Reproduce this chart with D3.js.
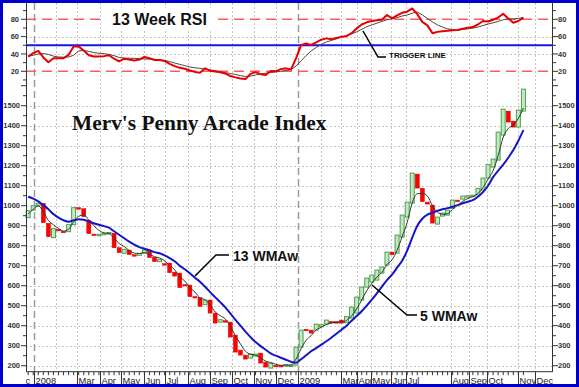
<!DOCTYPE html>
<html><head><meta charset="utf-8">
<script src="https://cdn.jsdelivr.net/npm/d3@7"></script>
<style>body{margin:0;background:#fff;} svg{display:block;}</style>
</head><body>
<svg id="c" width="579" height="387"></svg>
<script>
// ---------- DATA ----------
const firstWeek = "2007-12-24";
const opens = [940,978,1000,1012,912,840,882,872,870,905,
  990,985,925,858,854,857,860,862,790,762,
  778,755,752,762,778,742,720,710,713,668,
  663,606,603,546,540,505,528,463,418,425,
  418,353,278,253,238,248,263,218,188,202,
  201,200,196,203,293,382,378,378,395,408,
  421,420,428,415,438,463,528,593,618,628,
  663,703,768,763,843,943,1013,1158,1087,1018,
  1003,908,948,953,988,1028,1033,1045,1050,1053,
  1078,1138,1193,1228,1353,1473,1423,1393,1473];
const closes = [975,1000,1012,915,845,885,874,868,905,990,
  985,945,860,854,857,862,866,790,765,782,
  755,752,762,778,740,720,732,703,665,648,
  590,602,545,542,497,528,463,413,430,420,
  343,268,253,233,258,258,213,193,212,200,
  199,205,203,293,378,380,363,408,405,428,
  418,418,413,445,493,543,593,638,653,678,
  693,768,755,853,953,1018,1163,1088,1020,1008,
  913,943,963,978,1028,1022,1048,1050,1053,1087,
  1138,1205,1233,1368,1483,1418,1393,1478,1583];
const wma5 = [958,982,999,970,926,905,886,873,882,920,
  947,954,928,900,877,864,861,838,811,796,
  776,763,761,766,757,745,739,724,701,680,
  645,623,591,568,539,530,503,469,450,434,
  398,350,309,272,257,253,239,223,216,207,
  202,203,203,233,285,327,351,379,392,406,
  413,418,417,426,449,484,528,575,612,643,
  667,706,729,777,845,916,1014,1060,1062,1049,
  1000,968,957,960,983,1002,1022,1036,1045,1061,
  1090,1133,1175,1250,1342,1386,1404,1437,1488];
const wma13 = [1045,1035,1022,1003,982,958,940,927,920,927,
  932,930,922,912,905,898,890,872,855,837,
  820,805,793,785,777,768,762,752,738,722,
  700,682,662,640,620,595,568,543,518,492,
  462,430,400,370,343,318,298,280,262,250,
  240,230,220,215,232,252,272,288,305,322,
  340,360,380,400,425,448,472,500,530,562,
  595,628,655,690,725,775,840,900,935,955,
  965,975,982,988,995,1003,1012,1020,1028,1045,
  1068,1100,1143,1175,1205,1240,1278,1325,1378];
const rsi = [37,41,43.5,36,30.5,35,35,35,39,48.5,
  48.5,44,38.5,37,37,37.5,38.5,34.5,31.5,34.5,
  33.5,32.5,33.5,36.5,35,33,33,32,28.5,26,
  24,23,21,19.3,18.4,23.4,20.7,19.8,19,17.5,
  14.6,13,11.8,11,17,19,16.7,15.7,20.3,20,
  22.5,23.4,22,35,50,52,50.5,53.5,56.5,58,
  57,58.5,60,60.5,64,69.5,74,76.5,78,79,
  79.5,85,81,84.5,87.5,88.8,92.5,86,77,73,
  64,65.5,66.3,66.8,67.3,67.6,69,70.3,71,74,
  78,77.4,79.5,82,86.5,81,76,78,82];
const trigger = [37.5,38.5,40,40.5,39.5,37.5,36.5,36.3,36.5,38.5,
  43.5,44,43,41.5,40.8,40.3,39.5,38,36,35.3,
  35,35,34.6,34.3,34,33.8,33.2,32.5,31.3,29.5,
  28,26.5,25,24,23.5,22.5,21.6,20.8,19.7,18.5,
  17.5,16.3,15,14,14.5,15.8,17,17.8,18.6,19.3,
  20,21,22,26,32,38,43.5,47.5,51,53.8,
  55.6,57.5,59.5,61.3,63.3,65.5,68.5,71.5,73.5,75.5,
  77.5,79.5,80.5,82,83.8,85,87,88.5,85,81,
  77,73.5,71,69,68,67.6,68.3,69,69.8,71,
  72.8,74.5,76,77.5,79.5,80.5,80.5,81,82];
const priceTicks = [200,300,400,500,600,700,800,900,1000,1100,1200,1300,1400,1500];
const rsiTicks = [20,40,60,80];
const rsiBands = [20,80];
const rsiTriggerLevel = 50;
const monthLabels = ["Dec","2008","Mar","Apr","May","Jun","Jul","Aug","Sep","Oct","Nov","Dec",
  "2009","Mar","Apr","May","Jun","Jul","Aug","Sep","Oct","Nov","Dec"];
const monthLabelDates = ["2007-12-01","2008-01-01","2008-03-01","2008-04-01","2008-05-01","2008-06-01",
  "2008-07-01","2008-08-01","2008-09-01","2008-10-01","2008-11-01","2008-12-01",
  "2009-01-01","2009-03-01","2009-03-23","2009-04-12","2009-05-10","2009-05-30",
  "2009-08-01","2009-08-26","2009-09-20","2009-11-02","2009-11-25"];
const extraGridDates = ["2008-02-01","2009-02-01"];
const yearLineDates = ["2008-01-01","2009-01-01"];

// ---------- LAYOUT ----------
const parse = d3.timeParse("%Y-%m-%d");
const svg = d3.select("#c");
const L = 26, R = 553, T = 3, B = 371.7, mainTop = 87.7;
const x = d3.scaleTime().domain([parse("2007-12-21"), parse("2009-12-20")]).range([L, R]);
const yP = d3.scaleLinear().domain([170, 1590]).range([B, mainTop]);
const yR = d3.scaleLinear().domain([20, 80]).range([71.3, 19.3]);
const start = parse(firstWeek);
const weeks = closes.map((_, i) => d3.timeDay.offset(start, 7 * i));
const font = "'Liberation Sans', Arial, Helvetica, sans-serif";

svg.append("rect").attr("width", 579).attr("height", 387).attr("fill", "#fff");

const defs = svg.append("defs");
defs.append("clipPath").attr("id", "plotclip").append("rect")
  .attr("x", L).attr("y", 0).attr("width", R - L).attr("height", 387);

// grid
const grid = svg.append("g").attr("stroke", "#c4c4c4").attr("stroke-width", 1)
  .attr("stroke-dasharray", "2,2").attr("fill", "none");
priceTicks.forEach(v => grid.append("line").attr("x1", L).attr("x2", R)
  .attr("y1", Math.round(yP(v)) + 0.5).attr("y2", Math.round(yP(v)) + 0.5));
[40, 60].forEach(v => grid.append("line").attr("x1", L).attr("x2", R)
  .attr("y1", Math.round(yR(v)) + 0.5).attr("y2", Math.round(yR(v)) + 0.5));
const fmt = d3.timeFormat("%Y-%m-%d");
const gridDates = monthLabelDates.concat(extraGridDates).map(parse)
  .filter(d => x(d) > L + 2 && x(d) < R - 2 && yearLineDates.indexOf(fmt(d)) < 0);
gridDates.forEach(d => grid.append("line").attr("x1", Math.round(x(d)) + 0.5).attr("x2", Math.round(x(d)) + 0.5)
  .attr("y1", T).attr("y2", B));

// year lines
yearLineDates.map(parse).forEach(d => svg.append("line")
  .attr("x1", Math.round(x(d)) + 0.5).attr("x2", Math.round(x(d)) + 0.5)
  .attr("y1", T).attr("y2", B).attr("stroke", "#9a9a9a").attr("stroke-width", 1.5)
  .attr("stroke-dasharray", "7,4"));

// RSI bands
rsiBands.forEach(v => svg.append("line").attr("x1", L).attr("x2", R)
  .attr("y1", yR(v)).attr("y2", yR(v)).attr("stroke", "#ff5a5a").attr("stroke-width", 1.5)
  .attr("stroke-dasharray", "10,6"));
svg.append("line").attr("x1", L).attr("x2", R)
  .attr("y1", yR(rsiTriggerLevel)).attr("y2", yR(rsiTriggerLevel))
  .attr("stroke", "#1414f0").attr("stroke-width", 2);

// RSI title
svg.append("rect").attr("x", 104).attr("y", 8).attr("width", 110).attr("height", 22).attr("fill", "#fff");
svg.append("text").attr("x", 112).attr("y", 25).attr("font-family", font).attr("font-weight", "bold")
  .attr("font-size", 16).attr("fill", "#111").text("13 Week RSI");

// RSI lines
const lineR = arr => d3.line().x((d, i) => x(weeks[i])).y(d => yR(d))(arr);
svg.append("path").attr("d", lineR(trigger)).attr("fill", "none").attr("stroke", "#4a4a4a").attr("stroke-width", 1);
svg.append("path").attr("d", lineR(rsi)).attr("fill", "none").attr("stroke", "#e80000").attr("stroke-width", 2)
  .attr("stroke-linejoin", "round");

// candles
const cw = 4;
const cg = svg.append("g");
closes.forEach((c, i) => {
  const o = opens[i];
  const up = c >= o;
  const y1 = yP(Math.max(o, c)), y2 = yP(Math.min(o, c));
  const h = Math.max(1.5, y2 - y1);
  cg.append("rect").attr("x", x(weeks[i]) - cw / 2).attr("y", y1).attr("width", cw).attr("height", h)
    .attr("fill", up ? "#c2e8c2" : "#ff0000").attr("stroke", up ? "#3f963f" : "#e00000")
    .attr("stroke-width", up ? 0.9 : 0.5);
});

// moving averages
const lineP = arr => d3.line().x((d, i) => x(weeks[i])).y(d => yP(d)).curve(d3.curveMonotoneX)(arr);
svg.append("path").attr("d", lineP(wma13)).attr("fill", "none").attr("stroke", "#1515c8").attr("stroke-width", 2);
svg.append("path").attr("d", lineP(wma5)).attr("fill", "none").attr("stroke", "#2f3a2f").attr("stroke-width", 1);

// axes lines
const ax = svg.append("g").attr("stroke", "#333").attr("stroke-width", 1);
ax.append("line").attr("x1", L + 0.5).attr("x2", L + 0.5).attr("y1", T).attr("y2", B);
ax.append("line").attr("x1", R - 0.5).attr("x2", R - 0.5).attr("y1", T).attr("y2", B);
ax.append("line").attr("x1", L).attr("x2", R).attr("y1", B).attr("y2", B);

// price ticks and labels
const tickG = svg.append("g").attr("stroke", "#333").attr("stroke-width", 1);
const labG = svg.append("g").attr("font-family", font).attr("font-size", 7.5).attr("font-weight", "bold").attr("fill", "#333");
d3.range(150, 1650, 50).forEach(v => {
  const yy = yP(v);
  if (yy < mainTop - 2 || yy > B) return;
  const len = v % 100 === 0 ? 5 : 3;
  tickG.append("line").attr("x1", L - len).attr("x2", L).attr("y1", yy).attr("y2", yy);
  tickG.append("line").attr("x1", R).attr("x2", R + len).attr("y1", yy).attr("y2", yy);
});
priceTicks.forEach(v => {
  labG.append("text").attr("x", 20).attr("y", yP(v) + 2.7).attr("text-anchor", "end").text(v);
  labG.append("text").attr("x", 558).attr("y", yP(v) + 2.7).text(v);
});
d3.range(10, 100, 10).forEach(v => {
  const yy = yR(v);
  const len = v % 20 === 0 ? 5 : 3;
  tickG.append("line").attr("x1", L - len).attr("x2", L).attr("y1", yy).attr("y2", yy);
  tickG.append("line").attr("x1", R).attr("x2", R + len).attr("y1", yy).attr("y2", yy);
});
rsiTicks.forEach(v => {
  labG.append("text").attr("x", 19).attr("y", yR(v) + 2.7).attr("text-anchor", "end").text(v);
  labG.append("text").attr("x", 558).attr("y", yR(v) + 2.7).text(v);
});

// time axis
const tg = svg.append("g").attr("clip-path", "url(#plotclip)");
weeks.forEach(d => tg.append("line").attr("x1", x(d)).attr("x2", x(d)).attr("y1", B).attr("y2", B + 3.5)
  .attr("stroke", "#333").attr("stroke-width", 1));
monthLabelDates.map(parse).forEach((d, i) => {
  const xx = Math.round(x(d)) + 0.5;
  tg.append("line").attr("x1", xx).attr("x2", xx).attr("y1", B).attr("y2", 384)
    .attr("stroke", "#333").attr("stroke-width", 1);
  tg.append("text").attr("x", xx + 1).attr("y", 383.5).attr("font-family", font)
    .attr("font-size", 9.3).attr("fill", "#222").text(monthLabels[i]);
});

// annotations
const ann = svg.append("g").attr("fill", "none").attr("stroke", "#000").attr("stroke-width", 1.5);
ann.append("polyline").attr("points", "363,31 378,57 386,57");
ann.append("polyline").attr("points", "195,276 216,255 229,255");
ann.append("polyline").attr("points", "372,285 407,315 417,315");
svg.append("text").attr("x", 389).attr("y", 57.5).attr("font-family", font).attr("font-weight", "bold")
  .attr("font-size", 8).attr("fill", "#111").text("TRIGGER LINE");
svg.append("text").attr("x", 233).attr("y", 261).attr("font-family", font).attr("font-weight", "bold")
  .attr("font-size", 14).attr("fill", "#111").text("13 WMAw");
svg.append("text").attr("x", 420).attr("y", 320.5).attr("font-family", font).attr("font-weight", "bold")
  .attr("font-size", 14).attr("fill", "#111").text("5 WMAw");
svg.append("text").attr("x", 72).attr("y", 130).attr("font-family", "'Liberation Serif', 'Times New Roman', serif")
  .attr("font-weight", "bold").attr("font-size", 21.4).attr("fill", "#111").text("Merv's Penny Arcade Index");

// frame
svg.append("rect").attr("x", 1.5).attr("y", 1.5).attr("width", 576).attr("height", 384)
  .attr("fill", "none").attr("stroke", "#0000cc").attr("stroke-width", 3);
</script>
</body></html>
